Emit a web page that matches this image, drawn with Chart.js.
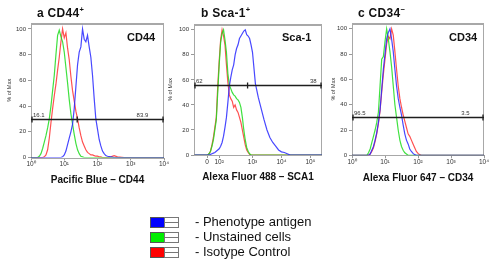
<!DOCTYPE html>
<html><head><meta charset="utf-8">
<script src="https://cdn.jsdelivr.net/npm/chart.js@4.4.1/dist/chart.umd.min.js"></script>
<style>
body{margin:0;width:500px;height:268px;background:#fff;position:relative;overflow:hidden;font-family:"Liberation Sans",Arial,sans-serif;color:#111;}
canvas{position:absolute;top:0;}
.t{position:absolute;font-weight:bold;white-space:nowrap;font-size:12px;line-height:12px;letter-spacing:0.3px;}
.t sup{font-size:7.5px;vertical-align:5px;line-height:0;}
.lab{position:absolute;font-weight:bold;white-space:nowrap;font-size:11px;line-height:12px;}
.lg{position:absolute;left:150px;height:10px;}
.sw{position:absolute;left:0;top:0;width:13px;height:9px;border:1px solid #555;}
.sw2{position:absolute;left:14px;top:0;width:13px;height:9px;border:1px solid #777;background:#fff;}
.sw2:after{content:"";position:absolute;left:0;right:0;top:4px;height:1px;background:#777;}
.lt{position:absolute;left:45px;top:-3px;font-size:13px;line-height:16px;white-space:nowrap;color:#111;}
</style></head><body>
<canvas id="ca" width="170" height="192" style="left:0px"></canvas>
<canvas id="cb" width="170" height="192" style="left:165px"></canvas>
<canvas id="cc" width="170" height="192" style="left:330px"></canvas>

<div class="t" style="left:37px;top:7px">a CD44<sup>+</sup></div>
<div class="t" style="left:201px;top:7px">b Sca-1<sup>+</sup></div>
<div class="t" style="left:358px;top:7px">c CD34<sup>&minus;</sup></div>
<div class="lab" style="left:127px;top:31px">CD44</div>
<div class="lab" style="left:282px;top:31px">Sca-1</div>
<div class="lab" style="left:449px;top:31px">CD34</div>

<div class="lg" style="top:217px"><span class="sw" style="background:#0000ff"></span><span class="sw2"></span><span class="lt">- Phenotype antigen</span></div>
<div class="lg" style="top:232px"><span class="sw" style="background:#00ee00"></span><span class="sw2"></span><span class="lt">- Unstained cells</span></div>
<div class="lg" style="top:247px"><span class="sw" style="background:#ff0000"></span><span class="sw2"></span><span class="lt">- Isotype Control</span></div>

<script>
// ---------- Panel a: CD44 (log10 fluorescence, % of max) ----------
const aDecade = [0,0.2,0.25,0.3,0.35,0.4,0.45,0.5,0.55,0.6,0.65,0.7,0.75,0.8,0.85,0.9,0.95,1.0,1.05,1.1,1.15,1.2,1.25,1.3,1.35,1.4,1.45,1.5,1.55,1.6,
  1.65,1.7,1.75,1.8,1.85,1.9,1.95,2.0,2.05,2.1,2.15,2.2,2.25,2.3, 2.4,2.5,2.6,2.8,3.0,3.5,4.0];
const aPhenotype = [0,0,0,0,0,0,0,0,0,0,0,0,0,0,0,0,0.5,2,5,10,15,20,26,38,55,72,82,86,100,92,
  90,95,86,78,64,46,30,22,14,9,5,3,1.5,1, 0.5,0,0,0,0,0,0];
const aUnstained = [0,0,1,3,7,12,17,23,30,40,52,64,80,95,99,94,90,82,70,58,45,34,26,18,11,6,3,1,0.5,0,
  0,0,0,0,0,0,0,0,0,0,0,0,0,0, 0,0,0,0,0,0,0];
const aIsotype = [0,0,0,0,0,0.5,2,6,15,27,38,48,57,68,78,90,100,93,97,85,76,63,52,44,36,30,23,17,12,9,
  6,4,3,2,2,1.5,1,1,0.5,0.5,0,0,0,0, 0.5,1.5,0.5,0,0,0,0];
const aTicks = [1,10,100,1000,10000];
const aTickLabels = ['10\u2070','10\u00b9','10\u00b2','10\u00b3','10\u2074'];

// ---------- Panel b: Sca-1 (biexponential display units, % of max) ----------
const bUnits = [1.0,1.4,1.45,1.5,1.55,1.6,1.65,1.7,1.75,1.8,1.85,1.9,1.95,2.0,2.05,2.1,2.15,2.2,2.25,2.3,2.35,2.4,2.45,2.5,2.55,2.6,2.65,2.7,2.75,2.8,2.85,2.9,2.95,3.0,
  3.1,3.2,3.3,3.4,3.5,3.6,3.7,3.8,3.9,4.0,4.1,4.2,4.3, 4.5,5.0,5.4];
const bPhenotype = [0,0,0,0,0.5,1,1.5,2,3,4,5,7,10,15,22,30,42,55,62,68,72,80,85,88,93,95,97,99,100,96,95,93,88,82,
  57,46,37,28,20,14,10,7,4,2.5,2,1,0, 0,0,0];
const bUnstained = [0,0,0,1,3,7,12,20,28,50,72,90,97,100,92,82,65,56,53,50,48,47,45,44,42,38,30,20,12,6,3,1,0,0,
  0,0,0,0,0,0,0,0,0,0,0,0,0, 0,0,0];
const bIsotype = [0,0,0,1,3,8,14,22,30,55,75,92,100,95,88,72,58,48,45,43,38,40,36,34,30,26,20,14,8,4,2,0.5,0,0,
  0,0,0,0,0,0,0,0,0,0,0,0,0, 0,0,0];
const bTicks = [1.43,1.85,3,4,5];
const bTickLabels = ['0','10\u00b2','10\u00b3','10\u2074','10\u2075'];

// ---------- Panel c: CD34 (log10 fluorescence, % of max) ----------
const cDecade = [0,0.4,0.45,0.5,0.55,0.6,0.65,0.7,0.75,0.8,0.85,0.9,0.95,1.0,1.05,1.1,1.15,1.2,1.25,1.3,1.35,1.4,1.45,1.5,1.55,1.6,1.65,1.7,1.75,1.8,1.85,1.9,1.95,2.0,2.05,2.1, 2.5,3.0,4.0];
const cPhenotype = [0,0,0,0,1,4,7,12,18,26,36,52,68,80,92,97,100,92,82,68,55,45,38,32,24,17,12,9,5,3,1.5,0.5,0,0,0,0, 0,0,0];
const cUnstained = [0,0,0,2,5,10,15,20,26,34,55,76,78,90,100,92,82,70,55,40,30,20,12,7,4,2,1,0,0,0,0,0,0,0,0,0, 0,0,0];
const cIsotype = [0,0,0,0,1,3,6,11,17,25,35,50,64,76,88,94,92,100,95,82,68,55,45,38,32,27,22,17,15,12,9,6,3,1.5,0.5,0, 0,0,0];
const cTicks = aTicks;
const cTickLabels = aTickLabels;

// ---------- Gates ----------
const gateLevels = [30, 56, 30];
const gateSplits = [24.5, 2.83, null];
const gateLeftText = ['16.1','62','96.5'];
const gateRightText = ['83.9','38','3.5'];
const gateRightAt = [2240, 5.1, 2750];

const yTicks = [0,20,40,60,80,100];
const seriesNames = ['Phenotype antigen','Unstained cells','Isotype Control'];
const seriesColors = ['rgba(40,40,255,0.85)','rgba(30,220,30,0.85)','rgba(255,50,50,0.85)'];

const FONT = '"Liberation Sans", Arial, sans-serif';

const framePlugin = {
  id: 'frame',
  beforeDatasetsDraw(chart) {
    const {ctx, chartArea: a} = chart;
    ctx.save();
    ctx.strokeStyle = '#a8a8a8';
    ctx.lineWidth = 1;
    ctx.strokeRect(Math.round(a.left)+0.5, Math.round(a.top)+0.5, Math.round(a.width)-1, Math.round(a.height));
    ctx.lineWidth = 2;
    ctx.beginPath(); ctx.moveTo(a.left, Math.round(a.top)+1); ctx.lineTo(a.right, Math.round(a.top)+1); ctx.stroke();
    ctx.restore();
  }
};
const gatePlugin = {
  id: 'gate',
  afterDatasetsDraw(chart, args, o) {
    const {ctx, chartArea: a, scales: {x, y}} = chart;
    const py = Math.round(y.getPixelForValue(o.level)) + 0.5;
    ctx.save();
    ctx.strokeStyle = '#1e1e1e'; ctx.lineWidth = 1.3;
    ctx.beginPath();
    ctx.moveTo(a.left, py); ctx.lineTo(a.right, py);
    ctx.moveTo(a.left + 1, py - 3); ctx.lineTo(a.left + 1, py + 3);
    ctx.moveTo(a.right - 1, py - 3); ctx.lineTo(a.right - 1, py + 3);
    if (o.split != null) { const sx = x.getPixelForValue(o.split); ctx.moveTo(sx, py - 3); ctx.lineTo(sx, py + 3); }
    ctx.stroke();
    ctx.fillStyle = '#333'; ctx.font = '6px ' + FONT; ctx.textBaseline = 'alphabetic';
    ctx.textAlign = 'left'; ctx.fillText(o.leftText, a.left + 2, py - 2.5);
    ctx.textAlign = 'center'; ctx.fillText(o.rightText, x.getPixelForValue(o.rightAt), py - 2.5);
    ctx.restore();
  }
};

function makePanel(id, idx, xs, toX, series, xType, xMin, xMax, ticks, tickLabels, xTitle, lay) {
  const H = 192, W = 170;
  const datasets = series.map((ys, k) => ({
    label: seriesNames[k],
    data: xs.map((v, i) => ({x: toX(v), y: ys[i]})),
    borderColor: seriesColors[k],
    borderWidth: 1.2,
    pointRadius: 0,
    tension: 0,
    fill: false,
    order: k
  }));
  new Chart(document.getElementById(id), {
    type: 'line',
    data: {datasets},
    plugins: [framePlugin, gatePlugin],
    options: {
      responsive: false, animation: false, devicePixelRatio: 1,
      layout: {padding: {top: lay.top, right: W - lay.right, left: 0, bottom: 0}},
      plugins: {
        legend: {display: false}, tooltip: {enabled: false},
        gate: {level: gateLevels[idx], split: gateSplits[idx], leftText: gateLeftText[idx], rightText: gateRightText[idx], rightAt: gateRightAt[idx]}
      },
      scales: {
        x: {
          type: xType, min: xMin, max: xMax,
          border: {display: false},
          grid: {drawOnChartArea: false, drawTicks: true, tickLength: 3, color: '#999'},
          afterBuildTicks: s => { s.ticks = ticks.map(v => ({value: v})); },
          afterFit: s => { s.height = H - lay.bottom; s.paddingLeft = 0; s.paddingRight = 0; },
          ticks: {autoSkip: false, maxRotation: 0, padding: 0, color: '#333', font: {size: 6.5, family: FONT},
            callback: (v, i) => tickLabels[i]},
          title: {display: true, text: xTitle, color: '#111', font: {size: 10, weight: 'bold', family: FONT}, padding: {top: 0, bottom: lay.titlePad}}
        },
        y: {
          min: 0, max: 104.6,
          border: {display: false},
          grid: {drawOnChartArea: false, drawTicks: true, tickLength: 3, color: '#999'},
          afterBuildTicks: s => { s.ticks = yTicks.map(v => ({value: v})); },
          afterFit: s => { s.width = lay.left - lay.canvasLeft; s.paddingTop = 0; s.paddingBottom = 0; },
          ticks: {padding: 2, color: '#333', font: {size: 6, family: FONT}},
          title: {display: true, text: '% of Max', color: '#333', font: {size: 5.5, family: FONT}, padding: {top: lay.yTitlePad, bottom: 0}}
        }
      }
    }
  });
}

makePanel('ca', 0, aDecade, d => Math.pow(10, d), [aPhenotype, aUnstained, aIsotype], 'logarithmic', 1, 10000, aTicks, aTickLabels,
  'Pacific Blue \u2013 CD44', {canvasLeft: 0, left: 31, right: 164, top: 23, bottom: 157.5, titlePad: 6, yTitlePad: 6});
makePanel('cb', 1, bUnits, u => u, [bPhenotype, bUnstained, bIsotype], 'linear', 0.98, 5.4, bTicks, bTickLabels,
  'Alexa Fluor 488 \u2013 SCA1', {canvasLeft: 165, left: 194, right: 157, top: 24, bottom: 155, titlePad: 9, yTitlePad: 2});
makePanel('cc', 2, cDecade, d => Math.pow(10, d), [cPhenotype, cUnstained, cIsotype], 'logarithmic', 1, 10000, cTicks, cTickLabels,
  'Alexa Fluor 647 \u2013 CD34', {canvasLeft: 330, left: 352, right: 154, top: 23, bottom: 155.3, titlePad: 8, yTitlePad: 0});
</script>
</body></html>
